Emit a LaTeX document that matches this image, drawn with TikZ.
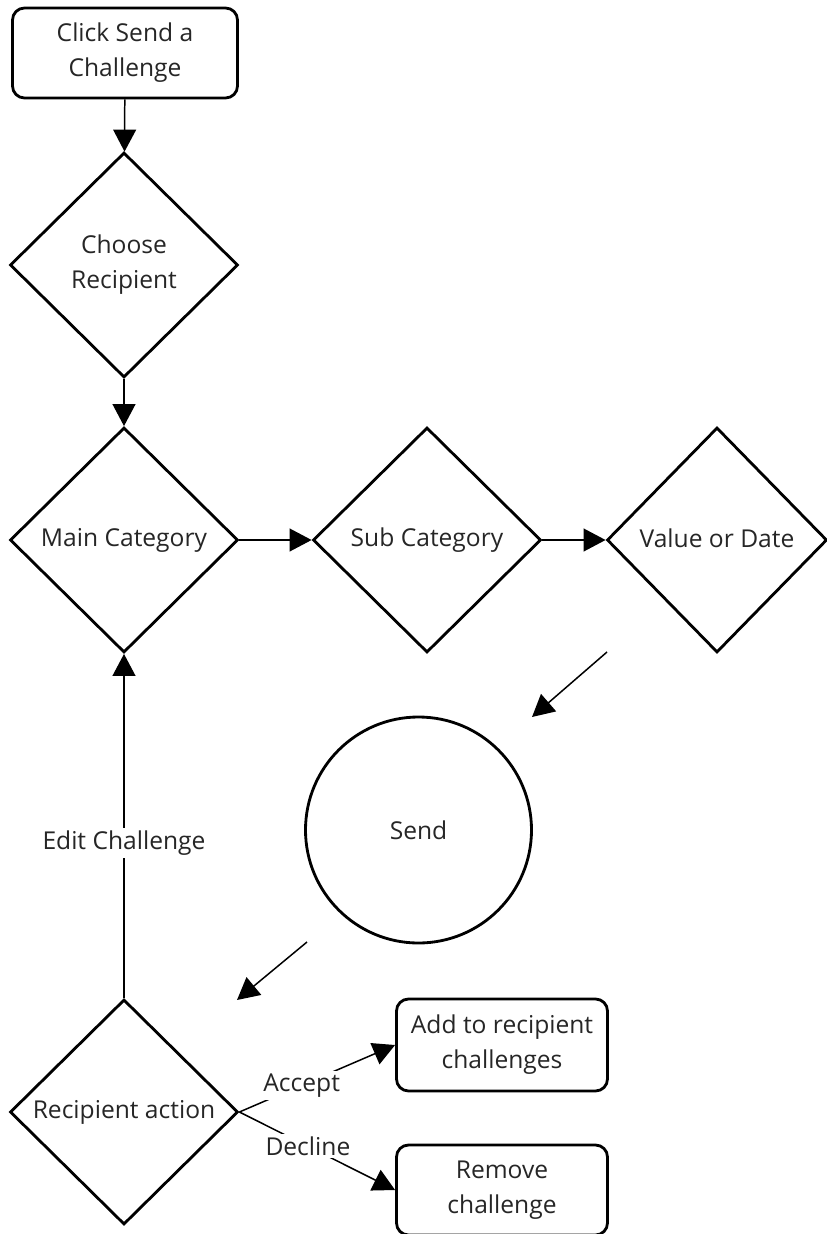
\documentclass[tikz,border=0pt]{standalone}
\usepackage{fontspec}
\setmainfont{Open Sans}
\usetikzlibrary{shapes.geometric}
\usetikzlibrary{arrows.meta}

\begin{document}
\begin{tikzpicture}[>={Triangle[length=12.5pt,width=13pt]},
doboz/.style={rectangle,rounded corners=2.4mm,line width=1.6pt,draw=black,align=center,
  minimum width=4.5cm,minimum height=1.8cm,text=black!85,font=\fontsize{14}{20}\selectfont},
rombusz/.style={diamond,line width=1.6pt,draw=black,inner sep=0pt,align=center,
  minimum width=4.56cm,minimum height=4.5cm,text=black!85,font=\fontsize{14}{20}\selectfont},
kor/.style={circle,line width=1.6pt,draw=black,minimum size=4.52cm,text=black!85,font=\fontsize{14}{20}\selectfont},
felirat/.style={fill=white,inner sep=1.5pt,text=black!85,font=\fontsize{14}{20}\selectfont}
]

\useasboundingbox (0,0) rectangle (16.54,-24.68);
\pgfmathsetmacro{\sor}{-10.8}

\node[doboz](click) at (2.5,-1.06){Click Send a\\Challenge};
\node[rombusz](choose) at (2.48,-5.3){Choose\\Recipient};

\node[rombusz](main-cat) at (2.48,\sor){Main Category};
\node[rombusz](sub-cat) at (8.54,\sor){Sub Category};
\node[rombusz,minimum width=4.4cm](value-date) at (14.34,\sor){Value or Date\strut};

\node[kor](send) at (8.37,-16.6){Send};

\node[rombusz](action) at (2.48,-22.24){Recipient action};
\node[doboz,minimum width=4.22cm,minimum height=1.84cm](accept-box) at (10.04,-20.9){Add to recipient\\challenges};
\node[doboz,minimum width=4.22cm,minimum height=1.8cm](decline-box) at (10.04,-23.8){Remove\\challenge};

\coordinate (v1) at (12.14,-13.04);
\coordinate (v2) at (10.64,-14.34);
\coordinate (s1) at (6.14,-18.84);
\coordinate (s2) at (4.74,-20.0);

\begin{scope}[->, line width=0.85pt]
\draw (click)--(choose);
\draw (choose)--(main-cat);
\draw (main-cat)--(sub-cat);
\draw (sub-cat)--(value-date);
\draw (v1)--(v2);
\draw (s1)--(s2);
\draw (action)--(main-cat) node[pos=.45, felirat]{Edit Challenge};
\draw (action.east)--(accept-box.west) node[pos=.4, felirat]{Accept};
\draw (action.east)--(decline-box.west) node[pos=.44, felirat]{Decline};
\end{scope}

\end{tikzpicture}
\end{document}
